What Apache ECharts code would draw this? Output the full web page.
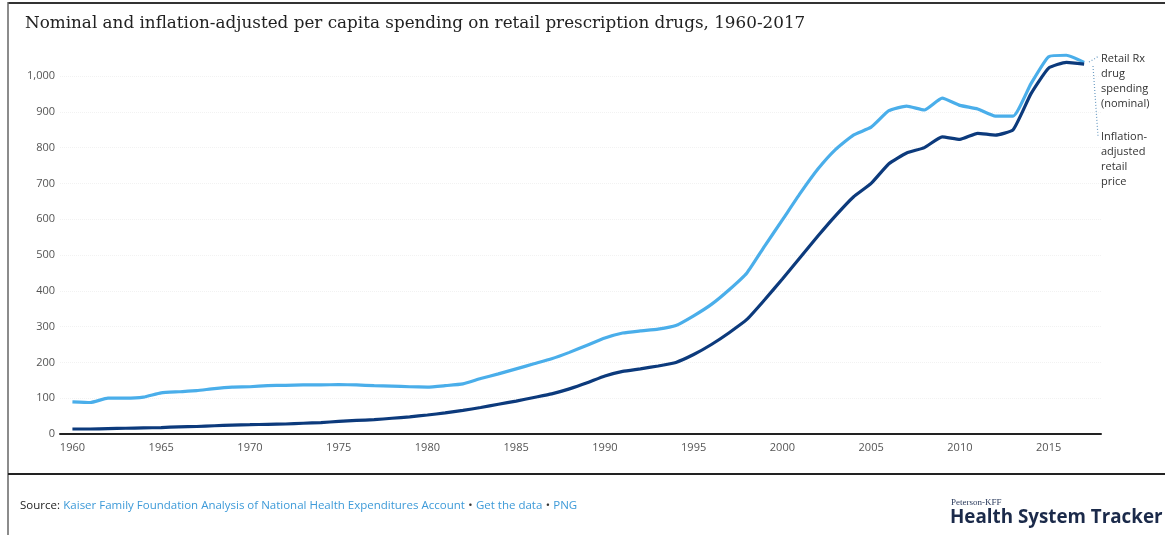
<!DOCTYPE html>
<html><head><meta charset="utf-8">
<script src="https://cdn.jsdelivr.net/npm/echarts@6/dist/echarts.min.js"></script>
<style>html,body{margin:0;padding:0;background:#fff}#c{width:1165px;height:535px}</style>
</head><body><div id="c"></div>
<script>
var years = [1960,1961,1962,1963,1964,1965,1966,1967,1968,1969,1970,1971,1972,1973,1974,1975,1976,1977,1978,1979,1980,1981,1982,1983,1984,1985,1986,1987,1988,1989,1990,1991,1992,1993,1994,1995,1996,1997,1998,1999,2000,2001,2002,2003,2004,2005,2006,2007,2008,2009,2010,2011,2012,2013,2014,2015,2016,2017];
var inflationAdjusted = [90,88,100,100,103,115,118,121,127,131,132,135,136,137,137,138,137,135,134,132,131,135,140,155,168,182,196,210,228,248,268,282,288,293,303,330,362,403,450,525,598,672,740,795,835,857,903,916,905,938,918,908,888,888,978,1054,1058,1038];
var nominal = [14,14,15,16,17,18,20,21,23,25,26,27,28,30,32,35,38,40,44,48,53,59,66,74,83,92,102,112,126,143,162,175,182,190,200,222,250,283,320,375,433,493,553,610,662,700,755,785,800,830,823,840,835,850,950,1022,1038,1033];
var xTickLabels = [1960,1965,1970,1975,1980,1985,1990,1995,2000,2005,2010,2015];
var yTickValues = [0,100,200,300,400,500,600,700,800,900,1000];
var seriesNames = ['Inflation-adjusted retail price','Retail Rx drug spending (nominal)'];

function pairs(vals){ return years.map(function(y,i){return [y, vals[i]];}); }

var chart = echarts.init(document.getElementById('c'), null, {renderer:'canvas'});
var sans = '"Open Sans", "Noto Sans", sans-serif';
chart.setOption({
  animation:false,
  backgroundColor:'#fff',
  title:{
    text:'Nominal and inflation-adjusted per capita spending on retail prescription drugs, 1960-2017',
    left:20, top:10,
    textStyle:{fontFamily:'"DejaVu Serif", serif', fontSize:16.8, fontWeight:'normal', color:'#222'}
  },
  grid:{left:60, right:64, top:40.2, bottom:101, containLabel:false},
  xAxis:{
    type:'value', min:1959.3, max:2017.95,
    axisLine:{show:true, lineStyle:{color:'#222', width:2}},
    axisTick:{show:false},
    splitLine:{show:false},
    axisLabel:{customValues:xTickLabels, color:'#555', fontFamily:sans, fontSize:11, margin:8, formatter:function(v){return String(v);}}
  },
  yAxis:{
    type:'value', min:0, max:1100, interval:100,
    axisLine:{show:false}, axisTick:{show:false},
    splitLine:{show:true, showMaxLine:false, showMinLine:false, lineStyle:{color:'#f2f2f2', width:1, type:'dotted'}},
    axisLabel:{color:'#555', fontFamily:sans, fontSize:11, margin:5,
      formatter:function(v){ return yTickValues.indexOf(v) >= 0 ? v.toLocaleString('en-US') : ''; }}
  },
  series:[
    {name:seriesNames[0], type:'line', data:pairs(inflationAdjusted), showSymbol:false, smooth:0.15, clip:false,
     lineStyle:{color:'#4aaeea', width:3.2}, itemStyle:{color:'#4aaeea'}, z:2},
    {name:seriesNames[1], type:'line', data:pairs(nominal), showSymbol:false, smooth:0.15, clip:false,
     lineStyle:{color:'#0c3a7c', width:3.2}, itemStyle:{color:'#0c3a7c'}, z:3}
  ],
  graphic:[
    {type:'line', shape:{x1:8,y1:3,x2:1165,y2:3}, style:{stroke:'#333', lineWidth:2}, silent:true},
    {type:'line', shape:{x1:8,y1:2,x2:8,y2:535}, style:{stroke:'#666', lineWidth:1.5}, silent:true},
    {type:'line', shape:{x1:8,y1:474,x2:1165,y2:474}, style:{stroke:'#222', lineWidth:2}, silent:true},
    {type:'polyline', shape:{points:[[1089,62],[1099,56]]}, style:{stroke:'#6f9ec4', lineWidth:1.2, lineDash:[1,2]}, silent:true},
    {type:'line', shape:{x1:1093,y1:66,x2:1098,y2:136}, style:{stroke:'#6f9ec4', lineWidth:1.2, lineDash:[1,2]}, silent:true},
    {type:'text', left:1101, top:51, style:{text:'Retail Rx\ndrug\nspending\n(nominal)', font:'11px '+sans, fill:'#333', lineHeight:15}},
    {type:'text', left:1101, top:129, style:{text:'Inflation-\nadjusted\nretail\nprice', font:'11px '+sans, fill:'#333', lineHeight:15}},
    {type:'text', left:20, top:500, style:{
      text:'{s|Source:} {b|Kaiser Family Foundation Analysis of National Health Expenditures Account} {d|•} {b|Get the data} {d|•} {b|PNG}',
      rich:{s:{fontFamily:sans, fontSize:11.5, fill:'#222'}, b:{fontFamily:sans, fontSize:11.5, fill:'#3d9ad8'}, d:{fontFamily:sans, fontSize:11.5, fill:'#333'}}
    }},
    {type:'text', left:951, top:498, style:{text:'Peterson-KFF', font:'9px "Liberation Serif", serif', fill:'#2a3a5c'}},
    {type:'text', left:950, top:508, style:{text:'Health System Tracker', font:'bold 18.8px "Open Sans", "Noto Sans", sans-serif', fill:'#1b2a4a'}}
  ]
});
</script></body></html>
